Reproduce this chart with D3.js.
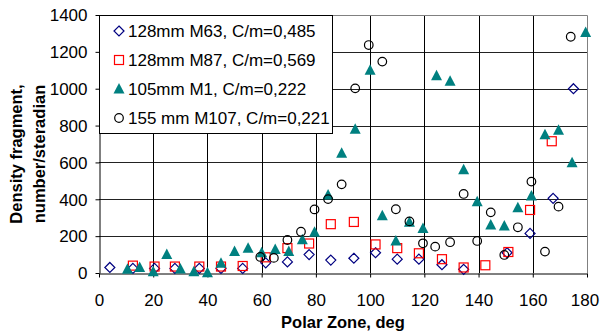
<!DOCTYPE html>
<html>
<head>
<meta charset="utf-8">
<script src="https://cdn.jsdelivr.net/npm/d3@7"></script>
<style>
  body { margin: 0; background: #fff; }
  svg { display: block; font-family: Arial, "Liberation Sans", sans-serif; }
  .tick text { font-size: 17px; fill: #000; }
</style>
</head>
<body>
<div class="chart"></div>
<script>
// values: [polar zone deg, density]
var m63 = [[4,30],[12.5,25],[20.5,25],[28,25],[37,25],[45,25],[53,25],[61.5,55],[69.5,60],[77.5,100],
  [85.5,70],[94,80],[102,110],[110,75],[118,75],[126.5,45],[134.5,20],[150.5,110],[159,215],[167.5,405],[175,1000]];
var m87 = [[12.5,40],[20.5,35],[28,35],[37,35],[45,35],[53,38],[61.5,85],[69.5,135],[77.5,160],[85.5,265],
  [94,277],[102,155],[110,135],[118,107],[126.5,75],[134.5,30],[142.5,42],[151,114],[159,342],[167,715]];
var m1 = [[10.5,20],[15,30],[20,7],[25,100],[30,22],[35,7],[40,2],[45,53],[50,116],[55,134],[60,110],[65,128],
  [70,116],[75,180],[79.5,221],[84.5,423],[89.5,650],[94.5,780],[100,1100],[104.5,311],[109.5,174],[114.5,275],
  [119.5,242],[124.5,1070],[129.5,1040],[134.5,560],[139.5,387],[144.5,260],[149.5,255],[154.5,354],[159.5,418],
  [164.5,750],[169.5,775],[174.5,598],[179.5,1305]];
var m107 = [[59.5,87],[64.5,82],[69.5,179],[74.5,224],[79.5,345],[84.5,401],[89.5,481],[94.5,1002],[99.5,1237],
  [104.5,1147],[109.5,346],[114.5,280],[119.5,161],[124,143],[129.5,167],[134.5,429],[139.5,174],[144.5,329],
  [149.5,98],[154.5,248],[159.5,496],[164.5,116],[169.5,360],[174,1282]];

var seriesNames = ['128mm M63, C/m=0,485', '128mm M87, C/m=0,569', '105mm M1, C/m=0,222', '155 mm M107, C/m=0,221'];
var xTicks = [0, 20, 40, 60, 80, 100, 120, 140, 160, 180];
var yTicks = [0, 200, 400, 600, 800, 1000, 1200, 1400];

var width = 600;
var height = 334;
var LEFT = 99, RIGHT = 587, TOP = 15, BOTTOM = 273;

var x = d3.scaleLinear().domain([0, 180]).range([LEFT, RIGHT]);
var y = d3.scaleLinear().domain([0, 1400]).range([BOTTOM, TOP]);

var svg = d3.select('.chart').append('svg')
  .attr('width', width)
  .attr('height', height);

// grid
svg.append('g').selectAll('line')
  .data(yTicks.slice(1, -1))
  .enter().append('line')
  .attr('x1', LEFT).attr('x2', RIGHT)
  .attr('y1', function (d) { return Math.round(y(d)) + 0.5; })
  .attr('y2', function (d) { return Math.round(y(d)) + 0.5; })
  .attr('stroke', '#222');
svg.append('g').selectAll('line')
  .data(xTicks.slice(1, -1))
  .enter().append('line')
  .attr('y1', TOP).attr('y2', BOTTOM)
  .attr('x1', function (d) { return Math.round(x(d)) + 0.5; })
  .attr('x2', function (d) { return Math.round(x(d)) + 0.5; })
  .attr('stroke', '#000');
// plot area frame, top and right
svg.append('path')
  .attr('d', 'M' + LEFT + ',' + (TOP + 0.5) + 'H' + (RIGHT + 0.5) + 'V' + BOTTOM)
  .attr('fill', 'none')
  .attr('stroke', '#808080');

// axes
svg.append('g')
  .attr('transform', 'translate(' + (LEFT + 0.5) + ',0)')
  .call(d3.axisLeft(y).tickValues(yTicks).tickFormat(d3.format('d')).tickSize(4).tickPadding(8).tickSizeOuter(0))
  .call(function (g) { g.selectAll('path, line').attr('stroke', '#000'); g.selectAll('text').attr('dy', '0.34em'); });
svg.append('g')
  .attr('transform', 'translate(0,' + (BOTTOM + 0.5) + ')')
  .call(d3.axisBottom(x).tickValues(xTicks).tickFormat(d3.format('d')).tickSize(4).tickPadding(16).tickSizeOuter(0))
  .call(function (g) {
    g.selectAll('path, line').attr('stroke', '#000');
    // last label sits at the page edge, pull it in a little
    g.selectAll('text').filter(function (d) { return d === 180; }).attr('dx', '-2.5');
  });

// axis titles
svg.append('text')
  .attr('x', (LEFT + RIGHT) / 2)
  .attr('y', 328)
  .attr('text-anchor', 'middle')
  .style('font-size', '16.5px')
  .style('font-weight', 'bold')
  .text('Polar Zone, deg');
svg.append('text')
  .attr('transform', 'translate(21.5,154) rotate(-90)')
  .attr('text-anchor', 'middle')
  .style('font-size', '16.5px')
  .style('font-weight', 'bold')
  .text('Density fragment,');
svg.append('text')
  .attr('transform', 'translate(45,154) rotate(-90)')
  .attr('text-anchor', 'middle')
  .style('font-size', '16.5px')
  .style('font-weight', 'bold')
  .text('number/steradian');

// marker drawers
var markers = [
  { data: m63, draw: function (sel) {
      sel.append('path').attr('d', 'M0,-5L5,0L0,5L-5,0Z').attr('fill', 'none').attr('stroke', '#000080').attr('stroke-width', 1.2);
    } },
  { data: m87, draw: function (sel) {
      sel.append('rect').attr('x', -4.5).attr('y', -4.5).attr('width', 9).attr('height', 9)
        .attr('fill', 'none').attr('stroke', '#ff0000').attr('stroke-width', 1.2);
    } },
  { data: m1, draw: function (sel) {
      sel.append('path').attr('d', 'M0,-6L5.5,4.5L-5.5,4.5Z').attr('fill', '#008080');
    } },
  { data: m107, draw: function (sel) {
      sel.append('circle').attr('r', 4.3).attr('fill', 'none').attr('stroke', '#000').attr('stroke-width', 1.2);
    } }
];

markers.forEach(function (m) {
  svg.append('g').selectAll('g')
    .data(m.data)
    .enter().append('g')
    .attr('transform', function (d) { return 'translate(' + x(d[0]) + ',' + y(d[1]) + ')'; })
    .call(m.draw);
});

// legend
var legend = svg.append('g');
legend.append('rect')
  .attr('x', LEFT + 0.5).attr('y', TOP + 0.5)
  .attr('width', 233).attr('height', 118)
  .attr('fill', '#fff')
  .attr('stroke', '#000');
seriesNames.forEach(function (name, i) {
  var ly = 31 + i * 29;
  legend.append('g')
    .attr('transform', 'translate(119,' + ly + ')')
    .call(markers[i].draw);
  legend.append('text')
    .attr('x', 128)
    .attr('y', ly)
    .attr('dy', '0.36em')
    .style('font-size', '17px')
    .text(name);
});
</script>
</body>
</html>
